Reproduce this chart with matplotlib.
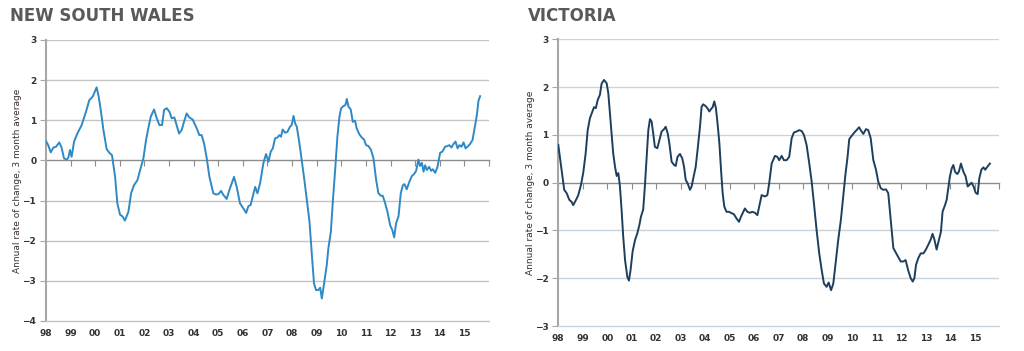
import matplotlib.pyplot as plt

# months since Jan 1998 and annual rate of change (3 month average)
nsw_months = [0, 1.1, 2.3, 3.6, 4.9, 6.5, 7.6, 8.8, 10.1, 10.9, 11.7, 12.5, 13.7, 15.3, 17.4,
              19.5, 21.1, 22.8, 24.7, 25.7, 26.7, 28.0, 29.6, 30.9, 32.2, 33.7, 34.8, 36.1,
              37.4, 38.5, 40.2, 41.5, 42.9, 44.6, 45.9, 47.5, 48.8, 49.9, 51.1, 52.7, 54.0,
              55.3, 56.6, 57.6, 58.9, 60.2, 61.3, 62.6, 63.7, 64.9, 66.2, 67.3, 68.6, 69.9,
              71.5, 73.5, 74.8, 75.9, 77.1, 78.4, 79.7, 81.6, 82.9, 84.1, 85.4, 86.5, 88.1,
              89.4, 90.6, 91.7, 93.0, 94.6, 96.3, 97.6, 98.7, 99.8, 102.0, 103.1, 104.4,
              106.0, 107.3, 108.5, 109.6, 110.6, 111.7, 112.8, 113.8, 114.6, 115.4, 116.6,
              117.7, 119.0, 119.8, 120.7, 121.5, 122.3, 123.6, 124.7, 126.0, 127.2, 128.5,
              129.6, 130.7, 131.7, 132.8, 133.7, 134.5, 135.6, 136.9, 137.7, 138.9, 139.8,
              141.0, 142.1, 143.1, 143.9, 145.0, 146.0, 146.7, 147.5, 148.6, 149.6, 150.7,
              151.5, 152.8, 154.0, 155.1, 156.1, 157.2, 158.4, 159.7, 161.0, 162.1, 163.3,
              164.2, 165.4, 166.5, 167.8, 168.9, 169.8, 170.7, 171.9, 173.0, 174.0, 174.8,
              175.9, 177.2, 178.4, 179.5, 180.5, 181.6, 182.4, 183.3, 184.1, 184.9, 185.7,
              186.8, 187.8, 188.6, 189.8, 190.9, 192.2, 193.3, 194.6, 195.8, 196.7, 197.7,
              198.7, 199.7, 200.7, 201.6, 202.6, 203.6, 204.6, 205.5, 206.8, 208.0, 209.1,
              210.1, 210.9, 211.7]
nsw_values = [0.48, 0.38, 0.2, 0.32, 0.34, 0.45, 0.32, 0.05, 0.02, 0.07, 0.26, 0.09, 0.47, 0.67, 0.88,
              1.21, 1.5, 1.59, 1.82, 1.59, 1.26, 0.76, 0.28, 0.19, 0.13, -0.41, -1.07, -1.35,
              -1.4, -1.5, -1.28, -0.82, -0.62, -0.49, -0.24, 0.05, 0.51, 0.8, 1.09, 1.27, 1.05,
              0.88, 0.88, 1.26, 1.3, 1.21, 1.05, 1.07, 0.88, 0.67, 0.76, 0.96, 1.17, 1.07,
              1.02, 0.8, 0.63, 0.63, 0.42, 0.05, -0.41, -0.82, -0.85, -0.84, -0.76, -0.86, -0.96,
              -0.74, -0.57, -0.41, -0.66, -1.07, -1.2, -1.31, -1.14, -1.11, -0.66, -0.82, -0.57,
              -0.07, 0.16, -0.03, 0.22, 0.3, 0.55, 0.57, 0.63, 0.59, 0.77, 0.69,
              0.71, 0.84, 0.88, 1.11, 0.92, 0.84, 0.42, 0.01, -0.49, -0.99, -1.53,
              -2.32, -3.07, -3.23, -3.23, -3.17, -3.44, -3.07, -2.61, -2.19, -1.78, -1.07,
              -0.24, 0.59, 1.09, 1.3, 1.35, 1.38, 1.53, 1.34, 1.27, 0.96, 0.99,
              0.8, 0.65, 0.57, 0.52, 0.38, 0.36, 0.27, 0.05, -0.49, -0.82, -0.88,
              -0.88, -1.07, -1.28, -1.61, -1.74, -1.92, -1.57, -1.39, -0.82, -0.62, -0.59,
              -0.72, -0.53, -0.39, -0.34, -0.26, 0.02, -0.14, -0.06, -0.28, -0.12, -0.24,
              -0.16, -0.26, -0.22, -0.31, -0.16, 0.19, 0.22, 0.34, 0.36, 0.38, 0.32,
              0.41, 0.47, 0.3, 0.38, 0.34, 0.45, 0.3, 0.34, 0.41, 0.51, 0.84,
              1.13, 1.49, 1.6]

vic_months = [0, 1.1, 2.1, 2.9, 4.1, 5.4, 6.5, 7.3, 8.7, 9.8, 11.1, 12.2, 13.4, 14.4, 15.5, 16.7,
              17.5, 18.4, 19.3, 20.4, 21.2, 22.4, 23.7, 24.5, 25.3, 26.1, 26.9, 27.8, 28.6,
              29.4, 30.2, 31.0, 31.8, 32.7, 33.8, 34.6, 35.4, 36.4, 37.6, 38.7, 39.7, 40.5,
              41.6, 42.4, 43.3, 44.1, 44.9, 45.7, 46.5, 47.3, 48.5, 49.5, 50.6, 51.8, 52.6,
              53.6, 54.4, 55.5, 56.7, 57.5, 58.4, 59.6, 60.7, 61.6, 62.4, 63.3, 64.5, 65.3,
              66.1, 67.3, 68.2, 69.4, 70.2, 71.0, 72.2, 73.0, 74.0, 74.8, 75.6, 76.4, 77.2,
              78.0, 78.9, 79.7, 80.5, 81.3, 82.4, 83.6, 84.9, 86.0, 87.3, 88.5, 89.5, 90.6,
              91.4, 92.6, 93.9, 95.0, 96.3, 97.5, 98.4, 99.6, 101.2, 102.4, 103.3, 104.5,
              106.1, 107.3, 108.2, 109.4, 110.5, 111.8, 113.1, 114.3, 115.4, 116.7, 118.0,
              119.2, 120.3, 121.6, 122.8, 124.1, 125.2, 126.5, 127.8, 129.0, 130.1, 131.4,
              132.4, 133.6, 134.7, 136.0, 137.1, 138.4, 139.6, 140.7, 141.6, 142.5, 143.7,
              145.0, 146.1, 147.3, 148.1, 149.4, 150.7, 151.8, 153.0, 154.3, 155.6, 156.7,
              158.0, 159.2, 160.5, 161.6, 162.8, 164.1, 165.4, 166.5, 167.7, 169.0, 170.1,
              171.4, 172.6, 173.6, 174.4, 175.2, 176.3, 177.5, 178.8, 179.9, 181.2, 182.4,
              183.3, 184.2, 185.3, 186.4, 187.4, 188.2, 189.4, 190.2, 191.0, 191.8, 192.7,
              193.5, 194.3, 195.4, 196.2, 197.2, 198.4, 199.5, 200.5, 201.3, 202.4, 203.4,
              204.4, 205.4, 206.2, 207.2, 208.2, 209.1, 210.1, 211.4]
vic_values = [0.79, 0.44, 0.13, -0.15, -0.22, -0.36, -0.4, -0.47, -0.36, -0.26, -0.05, 0.2, 0.61, 1.1, 1.35, 1.49,
              1.58, 1.56, 1.73, 1.84, 2.07, 2.15, 2.08, 1.87, 1.45, 1.03, 0.61, 0.33, 0.14,
              0.2, -0.08, -0.57, -1.13, -1.62, -1.97, -2.05, -1.83, -1.44, -1.2, -1.06, -0.89, -0.71,
              -0.56, -0.08, 0.54, 1.1, 1.33, 1.28, 1.03, 0.75, 0.72, 0.89, 1.07, 1.12, 1.17,
              1.03, 0.82, 0.44, 0.37, 0.35, 0.54, 0.6, 0.51, 0.33, 0.06, -0.01, -0.15, -0.08,
              0.09, 0.33, 0.68, 1.17, 1.59, 1.64, 1.6, 1.56, 1.49, 1.54, 1.58, 1.7, 1.56,
              1.24, 0.82, 0.27, -0.22, -0.5, -0.61, -0.61, -0.64, -0.66, -0.75, -0.82, -0.71, -0.61,
              -0.54, -0.61, -0.63, -0.61, -0.63, -0.68, -0.5, -0.26, -0.29, -0.26, -0.01, 0.4,
              0.56, 0.54, 0.47, 0.56, 0.47, 0.47, 0.54, 0.93, 1.05, 1.07, 1.1,
              1.08, 1.0, 0.79, 0.44, 0.02, -0.43, -0.99, -1.48, -1.83, -2.11, -2.18,
              -2.09, -2.25, -2.11, -1.62, -1.2, -0.78, -0.26, 0.2, 0.51, 0.91, 0.98,
              1.05, 1.1, 1.16, 1.1, 1.02, 1.12, 1.1, 0.93, 0.47, 0.27, 0.02,
              -0.12, -0.15, -0.14, -0.22, -0.78, -1.37, -1.47, -1.55, -1.65, -1.65, -1.62,
              -1.84, -2.0, -2.07, -2.0, -1.72, -1.58, -1.48, -1.48, -1.41, -1.3, -1.19,
              -1.07, -1.19, -1.4, -1.2, -1.03, -0.61, -0.47, -0.36, -0.12, 0.13, 0.3,
              0.37, 0.23, 0.18, 0.23, 0.4, 0.23, 0.13, -0.08, -0.05, 0.0, -0.08,
              -0.21, -0.24, 0.09, 0.27, 0.32, 0.27, 0.33, 0.4]

years = list(range(1998, 2017))
year_labels = ["%02d" % (y % 100) for y in years[:-1]] + [""]


def draw(ax, months, values, color, ylim, grid_color, title, title_x):
    x = [1998 + m / 12 for m in months]
    ax.set_xlim(1998, 2016)
    ax.set_ylim(*ylim)
    ax.set_yticks(range(ylim[0], ylim[1] + 1))
    for v in range(ylim[0] + 1, ylim[1] + 1):
        if v != 0:
            ax.axhline(v, color=grid_color, lw=1, zorder=1)
    ax.plot(x, values, color=color, lw=1.4, zorder=3)

    for s in ["top", "right"]:
        ax.spines[s].set_visible(False)
    ax.spines["left"].set_color("#a6a6a6")
    ax.spines["left"].set_linewidth(1.5)
    ax.spines["bottom"].set_color(grid_color)
    ax.spines["bottom"].set_linewidth(1)

    ax.set_xticks(years)
    ax.set_xticklabels(year_labels)
    ax.tick_params(axis="x", length=0, pad=6, labelsize=6.5, labelcolor="#333333")
    ax.tick_params(axis="y", length=4, color="#a6a6a6", pad=3, labelsize=6.5, labelcolor="#333333")
    for t in ax.get_xticklabels() + ax.get_yticklabels():
        t.set_fontweight("bold")

    # zero line with year ticks
    zero_pos = (0 - ylim[0]) / (ylim[1] - ylim[0])
    sec = ax.secondary_xaxis(zero_pos)
    sec.set_xticks(years)
    sec.tick_params(axis="x", direction="out", length=4, color="#8c8c8c", labelbottom=False,
                    labeltop=False, top=False, bottom=True)
    sec.spines["top"].set_visible(False)
    sec.spines["bottom"].set_color("#8c8c8c")
    sec.spines["bottom"].set_linewidth(1)
    sec.spines["bottom"].set_visible(True)

    ax.set_ylabel("Annual rate of change, 3 month average", fontsize=6.5, color="#3a2e2e", labelpad=0)
    ax.figure.text(title_x, 0.955, title, fontsize=12, fontweight="bold", color="#595959",
                   ha="left", va="center")


fig = plt.figure(figsize=(10.24, 3.51), dpi=100)
ax1 = fig.add_axes([0.0449, 0.0855, 0.4326, 0.8006])
ax2 = fig.add_axes([0.5452, 0.0712, 0.4307, 0.8168])

draw(ax1, nsw_months, nsw_values, "#2f89c5", (-4, 3), "#c4c4c4", "NEW SOUTH WALES", 0.010)
draw(ax2, vic_months, vic_values, "#1d3f5e", (-3, 3), "#c9d3dc", "VICTORIA", 0.5156)

fig.savefig("out.png", dpi=100)
